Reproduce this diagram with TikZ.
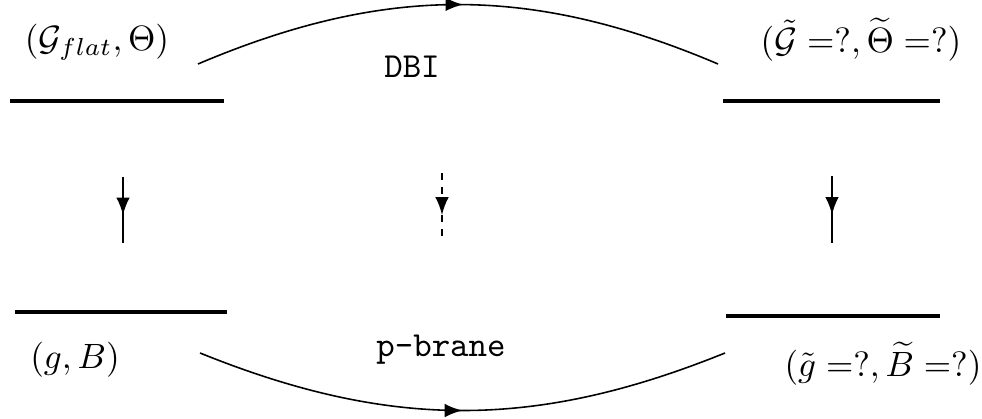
\documentclass[tikz,border=0pt]{standalone}
\usepackage{amsmath,amssymb}
\usepackage{xcolor}
\usetikzlibrary{arrows,decorations.markings}

\begin{document}
\begin{tikzpicture}[
    x=0.01cm, y=-0.01cm,
    brane/.style={line width=0.9pt},
    flow/.style={line width=0.45pt, postaction={decorate},
        decoration={markings, mark=at position #1 with {\arrow[solid, line width=0.75pt]{latex}}}},
    flow/.default=0.5,
    guess/.style={flow=#1, dash pattern=on 2pt off 2pt}
]
\useasboundingbox (0,0) rectangle (982,419);

% the four branes
\coordinate (flatA) at (10,101);  \coordinate (flatB) at (224,101);
\coordinate (ncA) at (723,101);   \coordinate (ncB) at (940,101);
\coordinate (gbA) at (15,312);    \coordinate (gbB) at (227,312);
\coordinate (tgA) at (726,316);   \coordinate (tgB) at (940,316);
\draw[brane] (flatA) -- (flatB);
\draw[brane] (ncA) -- (ncB);
\draw[brane] (gbA) -- (gbB);
\draw[brane] (tgA) -- (tgB);

% labels
\node (Gflat) at (97,42) {$(\mathcal{G}_{flat},\Theta)$};
\node (Gtilde) at (861,40) {$(\tilde{\mathcal{G}}=?,\widetilde{\Theta}=?)$};
\node (gB) at (75,360) {$(g,B)$};
\node (gtilde) at (883,364) {$(\tilde{g}=?,\widetilde{B}=?)$};
\node (dbi) at (412,67) {\texttt{DBI}};
\node (pbrane) at (441,350) {\texttt{p-brane}};

% maps
\coordinate (topA) at (198,64);  \coordinate (topB) at (718,64);
\coordinate (botA) at (200,353); \coordinate (botB) at (725,353);
\draw[flow=0.51] (topA) to[bend left=23] (topB);
\draw[flow=0.5] (botA) to[bend right=22] (botB);

\coordinate (leftA) at (123,177);  \coordinate (leftB) at (123,243);
\coordinate (midA) at (442,173);   \coordinate (midB) at (442,243);
\coordinate (rightA) at (832,176); \coordinate (rightB) at (832,243);
\draw[flow=0.58] (leftA) -- (leftB);
\draw[guess=0.6] (midA) -- (midB);
\draw[flow=0.58] (rightA) -- (rightB);
\end{tikzpicture}
\end{document}
